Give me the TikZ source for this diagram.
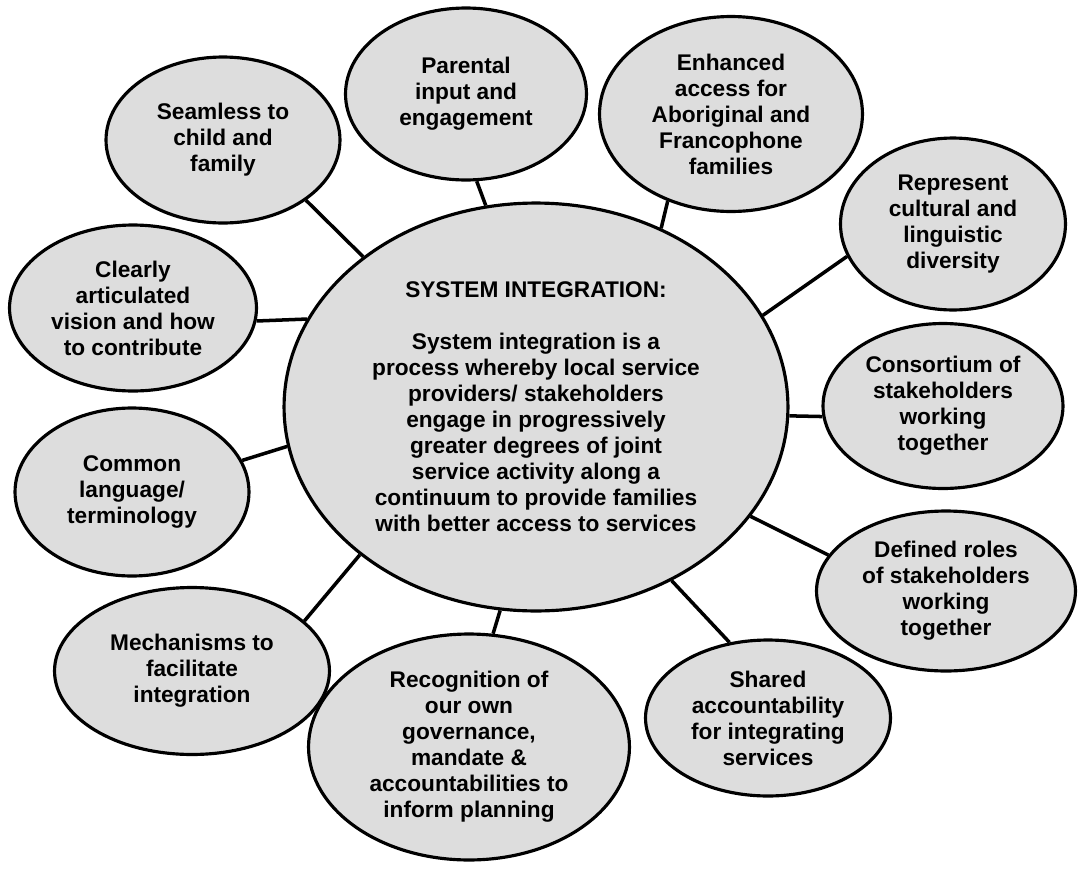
\documentclass[tikz,border=0pt]{standalone}
\usepackage{fontspec}
\setmainfont{Liberation Sans}
\usetikzlibrary{shapes.geometric,backgrounds}
\definecolor{siGray}{RGB}{221,221,221}

\begin{document}
\begin{tikzpicture}[
    x=0.02cm, y=-0.02cm,
    bubble/.style={ellipse, draw=black, line width=1.8pt, fill=siGray, inner sep=0pt,
      align=center, font=\bfseries\fontsize{12.9}{14.8}\selectfont},
    link/.style={line width=2pt}
]
  \useasboundingbox (0,0) rectangle (1090,873);

  \node[bubble, minimum width=10.08cm, minimum height=8.16cm] (hub) at (536,407)
    {SYSTEM INTEGRATION:\\[14.8pt]
     System integration is a\\ process whereby local service\\ providers/ stakeholders\\
     engage in progressively\\ greater degrees of joint\\ service activity along a\\
     continuum to provide families\\ with better access to services};

  \node[bubble, minimum width=4.68cm, minimum height=3.32cm] (seamless) at (223,140)
    {Seamless to\\ child and\\ family};
  \node[bubble, minimum width=4.82cm, minimum height=3.44cm] (parental) at (466,94)
    {Parental\\ input and\\ engagement};
  \node[bubble, minimum width=5.26cm, minimum height=3.9cm] (enhanced) at (731,114)
    {Enhanced\\ access for\\ Aboriginal and\\ Francophone\\ families};
  \node[bubble, minimum width=4.5cm, minimum height=3.44cm] (represent) at (953,224)
    {Represent\\ cultural and\\ linguistic\\ diversity};
  \node[bubble, minimum width=4.8cm, minimum height=3.3cm] (consortium) at (943,406)
    {Consortium of\\ stakeholders\\ working\\ together};
  \node[bubble, minimum width=5.18cm, minimum height=3.2cm] (defined) at (946,591)
    {Defined roles\\ of stakeholders\\ working\\ together};
  \node[bubble, minimum width=4.9cm, minimum height=3.12cm] (shared) at (768,718)
    {Shared\\ accountability\\ for integrating\\ services};
  \node[bubble, minimum width=6.42cm, minimum height=4.52cm] (recognition) at (469,747)
    {Recognition of\\ our own\\ governance,\\ mandate \&\\ accountabilities to\\ inform planning};
  \node[bubble, minimum width=5.5cm, minimum height=3.34cm] (mechanisms) at (192,671)
    {Mechanisms to\\ facilitate\\ integration};
  \node[bubble, minimum width=4.68cm, minimum height=3.36cm] (common) at (132,492)
    {Common\\ language/\\ terminology};
  \node[bubble, minimum width=4.94cm, minimum height=3.32cm] (clearly) at (133,308)
    {Clearly\\ articulated\\ vision and how\\ to contribute};

  % spokes
  \begin{scope}[on background layer]
    \draw[link] (hub.139.5) -- (seamless.-36.3);
    \draw[link] (hub.104.4) -- (parental.-83);
    \draw[link] (hub.55.8) -- (enhanced.-126.1);
    \draw[link] (hub.22.8) -- (represent.197.1);
    \draw[link] (hub.-2.1) -- (consortium.185.3);
    \draw[link] (hub.-27.5) -- (defined.163.6);
    \draw[link] (hub.-52.4) -- (shared.117.3);
    \draw[link] (hub.-100.4) -- (recognition.78.6);
    \draw[link] (hub.220.1) -- (mechanisms.24.8);
    \draw[link] (hub.189) -- (common.16.8);
    \draw[link] (hub.159.9) -- (clearly.-6.7);
  \end{scope}
\end{tikzpicture}
\end{document}
